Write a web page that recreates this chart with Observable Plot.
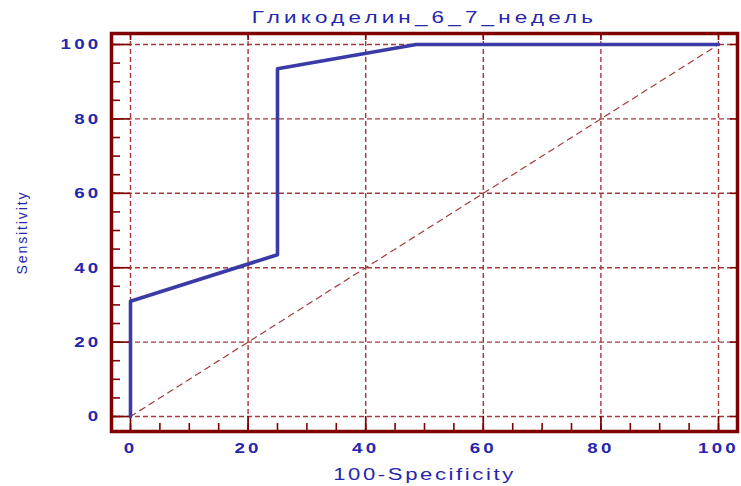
<!DOCTYPE html>
<html>
<head>
<meta charset="utf-8">
<script src="https://cdn.jsdelivr.net/npm/d3@7"></script>
<script src="https://cdn.jsdelivr.net/npm/@observablehq/plot@0.6"></script>
<style>
  html, body { margin: 0; padding: 0; background: #ffffff; }
  #chart svg { display: block; font-family: "Liberation Sans", Arial, sans-serif; }
</style>
</head>
<body>
<div id="chart"></div>
<script>
// ---- data ----
const title = "Гликоделин_6_7_недель";
const xLabel = "100-Specificity";
const yLabel = "Sensitivity";
const rocX = [0, 0, 25, 25, 48.6, 100];
const rocY = [0, 31, 43.5, 93.5, 100, 100];
const diagX = [0, 100];
const diagY = [0, 100];
const majorTicks = [0, 20, 40, 60, 80, 100];
const minorTicks = [0, 5, 10, 15, 20, 25, 30, 35, 40, 45, 50, 55, 60, 65, 70, 75, 80, 85, 90, 95, 100];

// ---- tables built from arrays ----
const roc = rocX.map((x, i) => ({x, y: rocY[i]}));
const diag = diagX.map((x, i) => ({x, y: diagY[i]}));

// ---- layout / style ----
const W = 741, H = 486;
const mL = 111, mR = 4, mT = 33, mB = 55;
const plotW = W - mL - mR, plotH = H - mT - mB;
const frameColor = "#800000";
const gridColor = "#a33a3a";
const lineColor = "#3b3ba8";
const textColor = "#2626ad";

const chart = Plot.plot({
  width: W,
  height: H,
  marginLeft: mL,
  marginRight: mR,
  marginTop: mT,
  marginBottom: mB,
  x: {domain: [-3.23, 103.23], axis: null},
  y: {domain: [-4.03, 102.96], axis: null},
  style: {fontFamily: "'Liberation Sans', Arial, sans-serif", background: "#ffffff"},
  marks: [
    // dashed grid
    Plot.ruleX(majorTicks, {x: d => d, stroke: gridColor, strokeWidth: 1.4, strokeDasharray: "5,3"}),
    Plot.ruleY(majorTicks, {y: d => d, stroke: gridColor, strokeWidth: 1.4, strokeDasharray: "5,3"}),
    // diagonal reference line
    Plot.line(diag, {x: "x", y: "y", stroke: gridColor, strokeWidth: 1.2, strokeDasharray: "6,5"}),
    // inward ticks: bottom & left (minor + major), top & right (major)
    Plot.ruleX(minorTicks, {x: d => d, stroke: frameColor, strokeWidth: 1.6, insetTop: plotH - 8}),
    Plot.ruleX(majorTicks, {x: d => d, stroke: frameColor, strokeWidth: 1.6, insetTop: plotH - 15}),
    Plot.ruleX(majorTicks, {x: d => d, stroke: frameColor, strokeWidth: 1.6, insetBottom: plotH - 7}),
    Plot.ruleY(minorTicks, {y: d => d, stroke: frameColor, strokeWidth: 1.6, insetRight: plotW - 9}),
    Plot.ruleY(majorTicks, {y: d => d, stroke: frameColor, strokeWidth: 1.6, insetRight: plotW - 19}),
    Plot.ruleY(majorTicks, {y: d => d, stroke: frameColor, strokeWidth: 1.6, insetLeft: plotW - 7}),
    // ROC curve
    Plot.line(roc, {x: "x", y: "y", stroke: lineColor, strokeWidth: 3.6}),
    // frame
    Plot.frame({stroke: frameColor, strokeWidth: 3.5}),
    // tick labels
    Plot.axisX({anchor: "bottom", ticks: majorTicks, tickSize: 0, tickPadding: 11, fontSize: 15, fontWeight: "bold", fill: textColor, tickFormat: d => String(d), label: null}),
    Plot.axisY({anchor: "left", ticks: majorTicks, tickSize: 0, tickPadding: 10, fontSize: 15, fontWeight: "bold", fill: textColor, tickFormat: d => String(d), label: null}),
    // title and axis labels
    Plot.text([title], {text: d => d, frameAnchor: "top", lineAnchor: "bottom", dy: -11, fontSize: 16, fill: textColor, ariaDescription: "title-text"}),
    Plot.text([xLabel], {text: d => d, frameAnchor: "bottom", lineAnchor: "bottom", dy: 48, fontSize: 17, fill: textColor, ariaDescription: "xlabel-text"}),
    Plot.text([yLabel], {text: d => d, frameAnchor: "left", textAnchor: "middle", rotate: -90, dx: -89, fontSize: 14, fill: textColor, ariaDescription: "ylabel-text"})
  ]
});

// widen glyphs horizontally like the reference rendering
function stretchText(svg, label, sx, ls) {
  const sel = `g[aria-label="${label}"] text, g[aria-description="${label}"] text, text[aria-label="${label}"]`;
  svg.querySelectorAll(sel).forEach(t => {
    const tr = t.getAttribute("transform") || "";
    const s = tr.includes("rotate") ? ` scale(1,${sx})` : ` scale(${sx},1)`;
    t.setAttribute("transform", tr + s);
    t.style.letterSpacing = ls + "px";
  });
}
stretchText(chart, "x-axis tick label", 1.25, 2.6);
stretchText(chart, "y-axis tick label", 1.25, 2.6);
stretchText(chart, "title-text", 1.4, 3);
stretchText(chart, "xlabel-text", 1.3, 2);
stretchText(chart, "ylabel-text", 1.1, 1.9);

document.getElementById("chart").appendChild(chart);
</script>
</body>
</html>
